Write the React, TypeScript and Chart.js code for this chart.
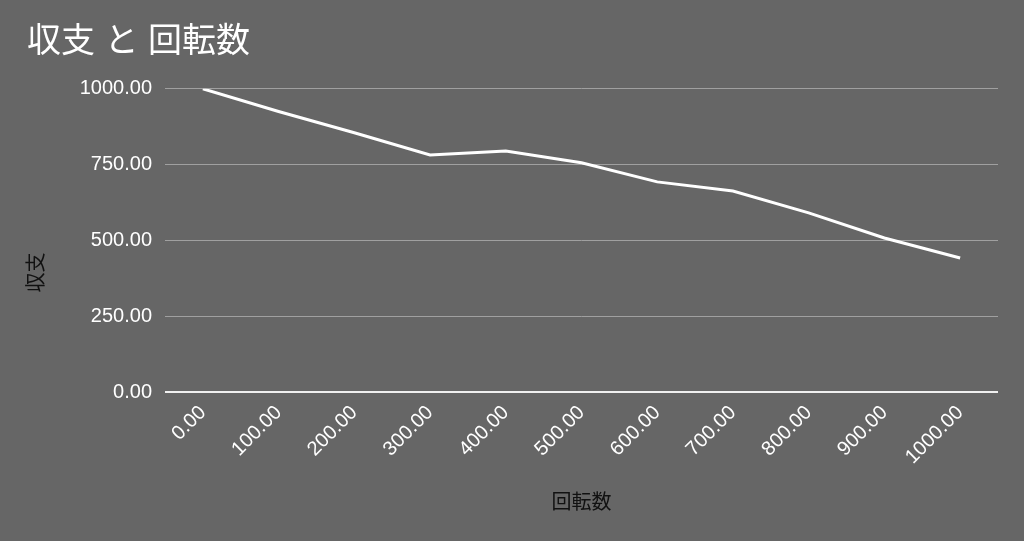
import React, { useEffect, useRef } from "react";
import { Chart, registerables } from "chart.js";

Chart.register(...registerables);

const spinLabels = ["0.00", "100.00", "200.00", "300.00", "400.00", "500.00", "600.00", "700.00", "800.00", "900.00", "1000.00"];
const balanceValues = [1000, 925, 855, 782, 795, 756, 693, 663, 591, 508, 442];
const yTicks = [0, 250, 500, 750, 1000];
const chartTitle = "収支 と 回転数";
const xTitle = "回転数";
const yTitle = "収支";

const FONT = '"Liberation Sans", "Noto Sans CJK JP", sans-serif';

export default function App() {
  const ref = useRef<HTMLCanvasElement | null>(null);

  useEffect(() => {
    if (!ref.current) return;
    const bgPlugin = {
      id: "bg",
      beforeDraw(chart: any) {
        const { ctx, width, height } = chart;
        ctx.save();
        ctx.fillStyle = "#666666";
        ctx.fillRect(0, 0, width, height);
        ctx.restore();
      },
    };
    const yTitlePlugin = {
      id: "ytitle",
      afterDraw(chart: any) {
        const { ctx, height } = chart;
        ctx.save();
        ctx.translate(37, height / 2 + 2);
        ctx.rotate(-Math.PI / 2);
        ctx.font = `20px ${FONT}`;
        ctx.fillStyle = "#111111";
        ctx.textAlign = "center";
        ctx.textBaseline = "middle";
        ctx.fillText(yTitle, 0, 0);
        ctx.restore();
      },
    };
    const chart = new Chart(ref.current, {
      type: "line",
      data: {
        labels: spinLabels,
        datasets: [
          {
            data: balanceValues,
            borderColor: "#ffffff",
            borderWidth: 3,
            pointRadius: 0,
            tension: 0,
            fill: false,
          },
        ],
      },
      plugins: [bgPlugin, yTitlePlugin],
      options: {
        responsive: true,
        maintainAspectRatio: false,
        animation: false,
        layout: { padding: { left: 27, right: 26, top: 0, bottom: 0 } },
        plugins: {
          legend: { display: false },
          tooltip: { enabled: false },
          title: {
            display: true,
            text: chartTitle,
            align: "start",
            color: "#ffffff",
            font: { family: FONT, size: 34, weight: "normal" },
            padding: { top: 22, bottom: 26 },
          },
        },
        scales: {
          x: {
            offset: true,
            grid: { display: false, drawTicks: false },
            border: { display: false },
            ticks: {
              color: "#ffffff",
              font: { family: FONT, size: 20 },
              maxRotation: 45,
              minRotation: 45,
              padding: 9,
              autoSkip: false,
            },
            title: {
              display: true,
              text: xTitle,
              color: "#111111",
              font: { family: FONT, size: 20 },
              padding: { top: 4, bottom: 26 },
            },
            afterFit: (s: any) => {
              s.height = 541 - 392;
            },
          },
          y: {
            min: 0,
            max: 1000,
            afterBuildTicks: (s: any) => {
              s.ticks = yTicks.map((v) => ({ value: v }));
            },
            grid: {
              drawTicks: false,
              color: (c: any) => (c.tick && c.tick.value === 0 ? "#f0f0f0" : "#a0a0a0"),
              lineWidth: (c: any) => (c.tick && c.tick.value === 0 ? 2 : 1),
            },
            border: { display: false },
            ticks: {
              color: "#ffffff",
              font: { family: FONT, size: 20 },
              padding: 13,
              callback: (v: any) => Number(v).toFixed(2),
            },
            title: { display: false },
            afterFit: (s: any) => {
              s.width = 165 - 27;
            },
          },
        },
      },
    });
    return () => chart.destroy();
  }, []);

  return (
    <div style={{ position: "fixed", left: 0, top: 0, width: 1024, height: 541, background: "#666666" }}>
      <canvas ref={ref} />
    </div>
  );
}
